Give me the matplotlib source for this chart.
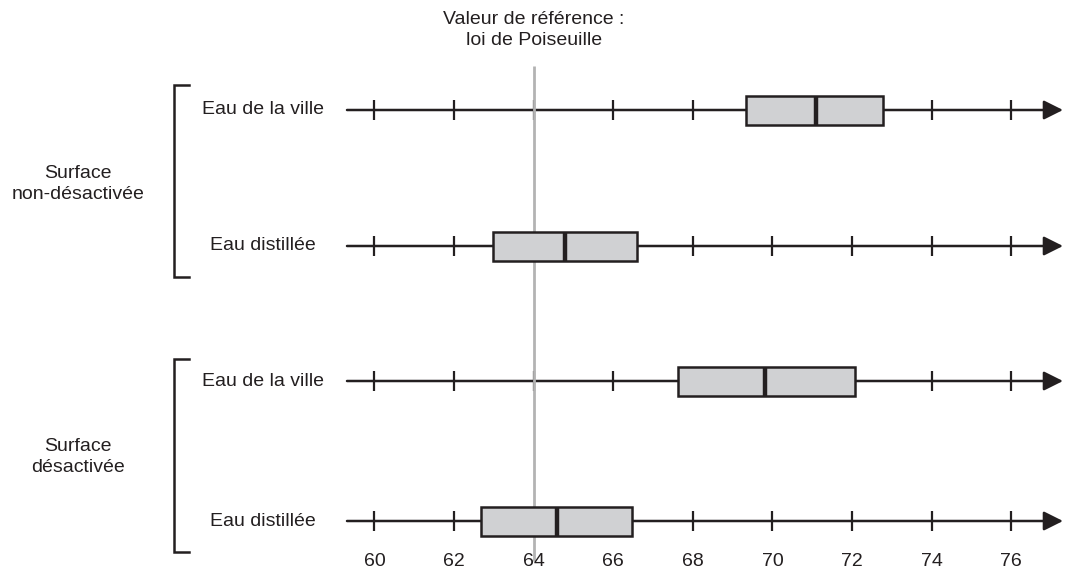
import matplotlib.pyplot as plt

## Donnees
rangees = ["Eau de la ville", "Eau distillée", "Eau de la ville", "Eau distillée"]
groupes = ["Surface\nnon-désactivée", "Surface\ndésactivée"]
q1 = [69.33, 62.99, 67.64, 62.69]
mediane = [71.09, 64.79, 69.82, 64.58]
q3 = [72.78, 66.61, 72.08, 66.46]
graduations = [60, 62, 64, 66, 68, 70, 72, 74, 76]
reference = 64
titre_ref = "Valeur de référence :\nloi de Poiseuille"

## Mise en page (axe y en pixels)
y_rangees = [110, 246, 381, 521]
y_groupes = [184, 457]
accolades = [(85, 277), (359, 552)]
noir = "#231f20"
gris = "#d0d1d3"

def px(x):
    # pixel horizontal -> valeur
    return 60 + (x - 374.4) / 39.8

plt.rcParams["font.family"] = ["Liberation Sans", "DejaVu Sans"]
fig = plt.figure(figsize=(10.67, 5.76), dpi=100)
ax = fig.add_axes([0, 0, 1, 1])
ax.set_xlim(px(0), px(1067))
ax.set_ylim(576, 0)
ax.axis("off")

for i, y in enumerate(y_rangees):
    # axe avec fleche
    ax.annotate("", xy=(px(1063), y), xytext=(px(347), y),
                arrowprops=dict(arrowstyle="-|>,head_length=0.9,head_width=0.45",
                                mutation_scale=13, color=noir, lw=1.8,
                                shrinkA=0, shrinkB=0),
                zorder=1)
    ax.vlines(graduations, y - 10, y + 10, color=noir, lw=1.6, zorder=1)
    # boite
    ax.barh(y, q3[i] - q1[i], left=q1[i], height=29, color=gris,
            edgecolor=noir, linewidth=1.8, zorder=3)
    ax.vlines(mediane[i], y - 14.5, y + 14.5, color=noir, lw=3.2, zorder=4)
    ax.text(px(263), y, rangees[i], ha="center", va="center", fontsize=14,
            color=noir)

# accolades et groupes
for (haut, bas), yg, nom in zip(accolades, y_groupes, groupes):
    ax.plot([px(189), px(174), px(174), px(189)], [haut, haut, bas, bas],
            color=noir, lw=1.8, solid_joinstyle="miter")
    ax.text(px(78), yg, nom, ha="center", va="center", fontsize=14,
            color=noir, linespacing=1.3)

# ligne de reference
ax.vlines(reference, 66, 561, color="#b3b3b3", lw=2, zorder=2)
ax.text(reference, 30, titre_ref, ha="center", va="center", fontsize=14,
        color=noir, linespacing=1.3)

for g in graduations:
    ax.text(g, 562, str(g), ha="center", va="center", fontsize=14, color=noir)

plt.savefig("out.png", dpi=100)
